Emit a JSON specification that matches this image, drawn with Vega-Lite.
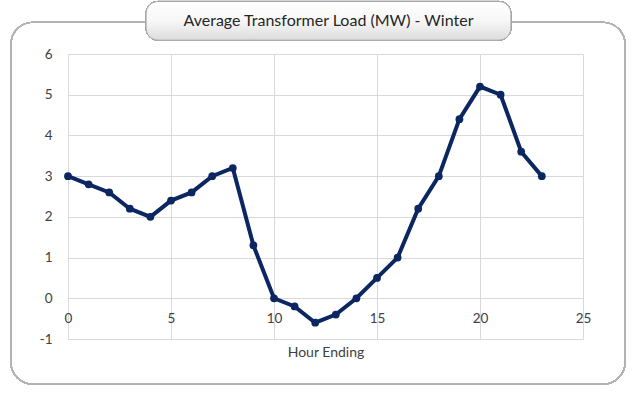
{
  "$schema": "https://vega.github.io/schema/vega-lite/v6.json",
  "width": 515,
  "height": 285,
  "autosize": "none",
  "padding": {"left": 68, "top": 54, "right": 57, "bottom": 59},
  "background": "white",
  "config": {
    "font": "Lato",
    "view": {"stroke": null},
    "axis": {"labelFont": "Lato", "titleFont": "Lato", "labelColor": "#404040", "titleColor": "#404040", "gridColor": "#d9d9d9", "gridWidth": 1}
  },
  "title": {
    "text": "Average Transformer Load (MW) - Winter",
    "anchor": "middle",
    "dx": 3,
    "offset": 0,
    "dy": 28,
    "fontSize": 16,
    "fontWeight": "normal",
    "font": "Lato",
    "color": "#262626",
    "zindex": 2
  },
  "data": {
    "values": [
      {"hour": 0, "load": 3.0}, {"hour": 1, "load": 2.8}, {"hour": 2, "load": 2.6},
      {"hour": 3, "load": 2.2}, {"hour": 4, "load": 2.0}, {"hour": 5, "load": 2.4},
      {"hour": 6, "load": 2.6}, {"hour": 7, "load": 3.0}, {"hour": 8, "load": 3.2},
      {"hour": 9, "load": 1.3}, {"hour": 10, "load": 0.0}, {"hour": 11, "load": -0.2},
      {"hour": 12, "load": -0.6}, {"hour": 13, "load": -0.4}, {"hour": 14, "load": 0.0},
      {"hour": 15, "load": 0.5}, {"hour": 16, "load": 1.0}, {"hour": 17, "load": 2.2},
      {"hour": 18, "load": 3.0}, {"hour": 19, "load": 4.4}, {"hour": 20, "load": 5.2},
      {"hour": 21, "load": 5.0}, {"hour": 22, "load": 3.6}, {"hour": 23, "load": 3.0}
    ]
  },
  "encoding": {
    "x": {
      "field": "hour", "type": "quantitative",
      "scale": {"domain": [0, 25], "nice": false, "zero": false},
      "axis": {"values": [0, 5, 10, 15, 20, 25], "title": "Hour Ending", "titleFontSize": 14, "titleFontWeight": "normal", "labelFontSize": 13.5, "labelFlush": false, "domain": false, "ticks": false, "offset": -41, "labelPadding": 13, "titlePadding": 21, "grid": true}
    },
    "y": {
      "field": "load", "type": "quantitative",
      "scale": {"domain": [-1, 6], "nice": false, "zero": false},
      "axis": {"values": [-1, 0, 1, 2, 3, 4, 5, 6], "title": null, "labelExpr": "'' + datum.value", "labelFontSize": 13.5, "domain": false, "ticks": false, "labelPadding": 16, "grid": true}
    }
  },
  "layer": [
    {
      "mark": {"type": "rect", "filled": false, "stroke": "#b3b3b3", "strokeWidth": 1.2, "cornerRadius": 22},
      "encoding": {
        "x": {"datum": -2.77, "type": "quantitative"},
        "x2": {"datum": 27.04},
        "y": {"datum": 6.78, "type": "quantitative"},
        "y2": {"datum": -2.11}
      }
    },
    {
      "mark": {
        "type": "rect", "stroke": "#a6a6a6", "strokeWidth": 1, "cornerRadius": 12,
        "fill": {"gradient": "linear", "x1": 0, "y1": 0, "x2": 0, "y2": 1, "stops": [{"offset": 0, "color": "#ffffff"}, {"offset": 0.5, "color": "#f7f7f7"}, {"offset": 1, "color": "#dcdcdc"}]}
      },
      "encoding": {
        "x": {"datum": 3.79, "type": "quantitative"},
        "x2": {"datum": 21.5},
        "y": {"datum": 7.29, "type": "quantitative"},
        "y2": {"datum": 6.34}
      }
    },
    {"mark": {"type": "line", "color": "#0b2660", "strokeWidth": 4}},
    {"mark": {"type": "point", "filled": true, "color": "#0b2660", "size": 60, "opacity": 1}}
  ]
}
